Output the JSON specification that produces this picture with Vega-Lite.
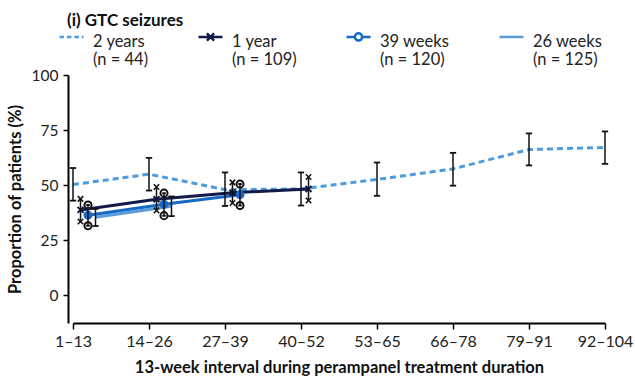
{
  "$schema": "https://vega.github.io/schema/vega-lite/v6.json",
  "width": 537,
  "height": 248,
  "autosize": {"type": "none"},
  "padding": {"left": 68, "top": 75, "right": 30, "bottom": 58},
  "background": "white",
  "config": {
    "view": {"stroke": null},
    "font": "Lato",
    "axis": {"grid": false, "domainColor": "#000", "domainWidth": 2, "tickColor": "#000", "tickWidth": 1.5, "labelFont": "Lato", "labelFontSize": 15.5, "labelColor": "#222", "titleFont": "Lato", "titleFontSize": 16.5, "titleFontWeight": "bold", "titleColor": "#111"}
  },
  "title": {"text": "(i) GTC seizures", "anchor": "start", "frame": "group", "font": "Lato", "fontSize": 17, "fontWeight": "bold", "color": "#111", "offset": 5, "dx": -1, "dy": 7},
  "data": {"values": [
    {"series": "2 years|(n = 44)", "interval": "1–13", "value": 50.3, "lo": 43.0, "hi": 57.8},
    {"series": "2 years|(n = 44)", "interval": "14–26", "value": 55.0, "lo": 47.6, "hi": 62.4},
    {"series": "2 years|(n = 44)", "interval": "27–39", "value": 48.0, "lo": 40.6, "hi": 55.8},
    {"series": "2 years|(n = 44)", "interval": "40–52", "value": 48.3, "lo": 40.8, "hi": 55.8},
    {"series": "2 years|(n = 44)", "interval": "53–65", "value": 52.6, "lo": 45.2, "hi": 60.3},
    {"series": "2 years|(n = 44)", "interval": "66–78", "value": 57.4, "lo": 49.8, "hi": 64.7},
    {"series": "2 years|(n = 44)", "interval": "79–91", "value": 66.2, "lo": 59.0, "hi": 73.5},
    {"series": "2 years|(n = 44)", "interval": "92–104", "value": 67.1, "lo": 59.7, "hi": 74.4},
    {"series": "1 year|(n = 109)", "interval": "1–13", "value": 38.8, "lo": 33.5, "hi": 43.8},
    {"series": "1 year|(n = 109)", "interval": "14–26", "value": 43.6, "lo": 38.5, "hi": 49.2},
    {"series": "1 year|(n = 109)", "interval": "27–39", "value": 46.6, "lo": 41.9, "hi": 51.3},
    {"series": "1 year|(n = 109)", "interval": "40–52", "value": 48.3, "lo": 43.1, "hi": 53.7},
    {"series": "39 weeks|(n = 120)", "interval": "1–13", "value": 36.4, "lo": 31.6, "hi": 41.0},
    {"series": "39 weeks|(n = 120)", "interval": "14–26", "value": 41.4, "lo": 36.2, "hi": 46.4},
    {"series": "39 weeks|(n = 120)", "interval": "27–39", "value": 45.7, "lo": 40.8, "hi": 50.5},
    {"series": "26 weeks|(n = 125)", "interval": "1–13", "value": 35.5, "lo": 31.5, "hi": 39.3},
    {"series": "26 weeks|(n = 125)", "interval": "14–26", "value": 40.5, "lo": 36.0, "hi": 44.9}
  ]},
  "encoding": {
    "x": {"field": "interval", "type": "ordinal", "sort": ["1–13", "14–26", "27–39", "40–52", "53–65", "66–78", "79–91", "92–104"],
      "scale": {"type": "point", "range": [5, 537], "padding": 0},
      "axis": {"labelAngle": 0, "tickSize": 6, "labelPadding": 4, "labelFontSize": 16, "title": "13-week interval during perampanel treatment duration", "titlePadding": 10}},
    "xOffset": {"field": "series", "type": "nominal", "scale": {"type": "point", "domain": ["2 years|(n = 44)", "1 year|(n = 109)", "39 weeks|(n = 120)", "26 weeks|(n = 125)"], "range": [0, 22.5], "padding": 0}}
  },
  "layer": [
    {
      "transform": [{"filter": "indexof(datum.series, '2 years') == 0"}],
      "mark": {"type": "line", "strokeWidth": 3, "strokeDash": [6, 4], "color": "#4f9be0"},
      "encoding": {"y": {"field": "value", "type": "quantitative", "scale": {"domain": [-12.5, 100], "nice": false, "zero": false},
        "axis": {"values": [0, 25, 50, 75, 100], "tickSize": 5, "labelPadding": 5, "title": "Proportion of patients (%)", "titlePadding": 8}}}
    },
    {
      "transform": [{"filter": "indexof(datum.series, '26 weeks') == 0"}],
      "mark": {"type": "line", "strokeWidth": 3, "color": "#5a9ddf"},
      "encoding": {"y": {"field": "value", "type": "quantitative"}}
    },
    {
      "transform": [{"filter": "indexof(datum.series, '39 weeks') == 0"}],
      "mark": {"type": "line", "strokeWidth": 3, "color": "#1769c6"},
      "encoding": {"y": {"field": "value", "type": "quantitative"}}
    },
    {
      "transform": [{"filter": "indexof(datum.series, '1 year') == 0"}],
      "mark": {"type": "line", "strokeWidth": 3, "color": "#121a4a"},
      "encoding": {"y": {"field": "value", "type": "quantitative"}}
    },
    {
      "transform": [{"filter": "indexof(datum.series, '39 weeks') == 0"}],
      "mark": {"type": "point", "shape": "circle", "filled": true, "size": 80, "opacity": 1, "color": "#1769c6"},
      "encoding": {"y": {"field": "value", "type": "quantitative"}}
    },
    {
      "transform": [{"filter": "indexof(datum.series, '1 year') == 0"}],
      "mark": {"type": "point", "shape": "M-1,-1L1,1M-1,1L1,-1", "filled": false, "size": 36, "strokeWidth": 2, "opacity": 1, "color": "#121a4a"},
      "encoding": {"y": {"field": "value", "type": "quantitative"}}
    },
    {
      "mark": {"type": "rule", "color": "#111", "strokeWidth": 1.5},
      "encoding": {"y": {"field": "lo", "type": "quantitative"}, "y2": {"field": "hi"}}
    },
    {
      "transform": [{"filter": "indexof(datum.series, '2 years') == 0 || indexof(datum.series, '26 weeks') == 0"}, {"fold": ["lo", "hi"], "as": ["end", "endval"]}],
      "mark": {"type": "point", "shape": "M-1,0H1", "filled": false, "size": 40, "strokeWidth": 1.8, "opacity": 1, "color": "#111"},
      "encoding": {"y": {"field": "endval", "type": "quantitative"}}
    },
    {
      "transform": [{"filter": "indexof(datum.series, '1 year') == 0"}, {"fold": ["lo", "hi"], "as": ["end", "endval"]}],
      "mark": {"type": "point", "shape": "M-1,-1L1,1M-1,1L1,-1", "filled": false, "size": 30, "strokeWidth": 1.5, "opacity": 1, "color": "#111"},
      "encoding": {"y": {"field": "endval", "type": "quantitative"}}
    },
    {
      "transform": [{"filter": "indexof(datum.series, '39 weeks') == 0"}, {"fold": ["lo", "hi"], "as": ["end", "endval"]}],
      "mark": {"type": "point", "shape": "M-1,0A1,1 0 1,0 1,0A1,1 0 1,0 -1,0ZM-0.5,0H0.5", "filled": false, "size": 50, "strokeWidth": 2, "opacity": 1, "color": "#111"},
      "encoding": {"y": {"field": "endval", "type": "quantitative"}}
    },
    {
      "mark": {"type": "point", "filled": false, "opacity": 0, "strokeWidth": 2.5},
      "encoding": {
        "y": {"field": "value", "type": "quantitative"},
        "color": {"field": "series", "type": "nominal",
          "scale": {"domain": ["2 years|(n = 44)", "1 year|(n = 109)", "39 weeks|(n = 120)", "26 weeks|(n = 125)"], "range": ["#4f9be0", "#121a4a", "#1769c6", "#5a9ddf"]},
          "legend": {"orient": "none", "legendX": -10, "legendY": -47, "direction": "horizontal", "columns": 4, "columnPadding": 44, "title": null,
            "symbolSize": 576, "symbolStrokeWidth": 2.5, "symbolOpacity": 1, "labelFont": "Lato", "labelFontSize": 16.5, "labelColor": "#222", "labelOffset": 8,
            "labelExpr": "split(datum.label, '|')", "labelLimit": 200,
            "encode": {"labels": {"update": {"lineHeight": {"value": 20}}}}}},
        "shape": {"field": "series", "type": "nominal",
          "scale": {"domain": ["2 years|(n = 44)", "1 year|(n = 109)", "39 weeks|(n = 120)", "26 weeks|(n = 125)"],
            "range": ["M-1,-0.4H-0.62M-0.38,-0.4H0M0.24,-0.4H0.62M0.86,-0.4H1", "M-1,-0.4H1M-0.3,-0.7L0.3,-0.1M-0.3,-0.1L0.3,-0.7", "M-1,-0.4H-0.3M0.3,-0.4H1M-0.3,-0.4A0.3,0.3 0 1,0 0.3,-0.4A0.3,0.3 0 1,0 -0.3,-0.4", "M-1,-0.4H1"]},
          "legend": {"orient": "none", "legendX": -10, "legendY": -47, "direction": "horizontal", "columns": 4, "columnPadding": 44, "title": null,
            "symbolSize": 576, "symbolStrokeWidth": 2.5, "symbolOpacity": 1, "labelFont": "Lato", "labelFontSize": 16.5, "labelColor": "#222", "labelOffset": 8,
            "labelExpr": "split(datum.label, '|')", "labelLimit": 200,
            "encode": {"labels": {"update": {"lineHeight": {"value": 20}}}}}}
      }
    }
  ]
}
